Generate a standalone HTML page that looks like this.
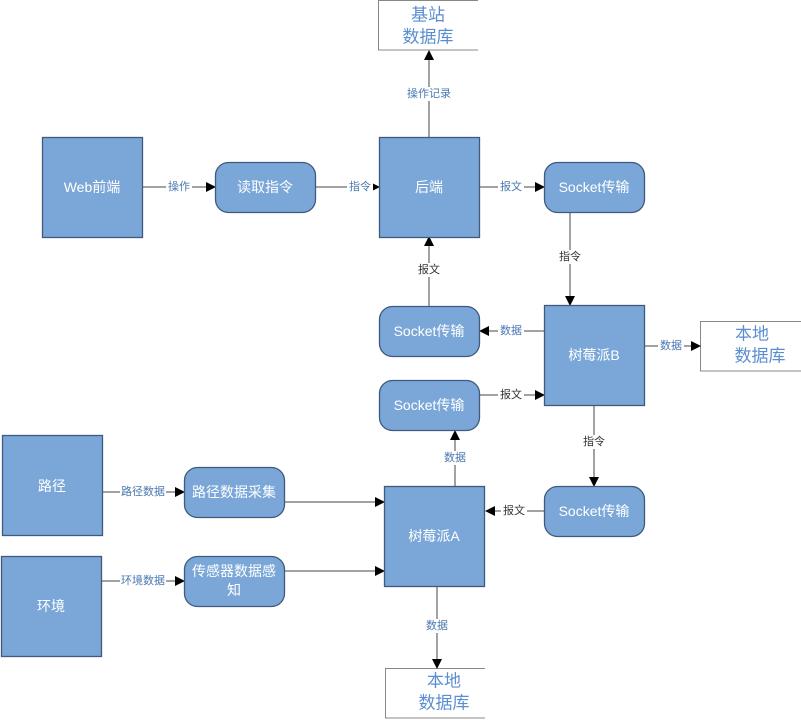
<!DOCTYPE html>
<html><head><meta charset="utf-8"><style>
html,body{margin:0;padding:0;background:#fff;}
svg{display:block;font-family:"Liberation Sans","Noto Sans CJK SC",sans-serif;}
.b{fill:#7aa7d8;stroke:#3f5a7e;stroke-width:1.3;}
.w{fill:#fff;font-size:14px;text-anchor:middle;dominant-baseline:central;}
.l{fill:#4a78b0;font-size:11px;text-anchor:middle;dominant-baseline:central;}
.d{fill:#333;font-size:11px;text-anchor:middle;dominant-baseline:central;}
.db{fill:#5b8ed0;font-size:17px;text-anchor:middle;dominant-baseline:central;}
.c{stroke:#444;stroke-width:1;fill:none;}
.lb{fill:#fff;}
</style></head><body>
<svg width="801" height="720" viewBox="0 0 801 720">
<defs><marker id="a" markerWidth="10" markerHeight="10" refX="9" refY="5" orient="auto" markerUnits="userSpaceOnUse"><path d="M0,0 L10,5 L0,10 z" fill="#000"/></marker></defs>
<!-- open DB boxes -->
<path d="M478,0.5 H378.5 V50 H478" fill="none" stroke="#888" stroke-width="1"/>
<text class="db" x="428" y="15">基站</text><text class="db" x="428" y="37">数据库</text>
<path d="M801,321.5 H700.5 V371 H801" fill="none" stroke="#888" stroke-width="1"/>
<text class="db" x="752" y="334">本地</text><text class="db" x="760" y="356">数据库</text>
<path d="M485,668.5 H385.5 V718 H485" fill="none" stroke="#888" stroke-width="1"/>
<text class="db" x="444" y="681">本地</text><text class="db" x="444" y="703">数据库</text>

<!-- connectors -->
<line class="c" x1="142" y1="187" x2="215" y2="187" marker-end="url(#a)"/>
<line class="c" x1="315" y1="187" x2="379" y2="187" marker-end="url(#a)"/>
<line class="c" x1="479" y1="187" x2="544" y2="187" marker-end="url(#a)"/>
<line class="c" x1="429" y1="137" x2="429" y2="51" marker-end="url(#a)"/>
<line class="c" x1="570" y1="212" x2="570" y2="305" marker-end="url(#a)"/>
<line class="c" x1="429" y1="306" x2="429" y2="237" marker-end="url(#a)"/>
<line class="c" x1="544" y1="331" x2="480" y2="331" marker-end="url(#a)"/>
<line class="c" x1="644" y1="346" x2="700" y2="346" marker-end="url(#a)"/>
<line class="c" x1="479" y1="395" x2="544" y2="395" marker-end="url(#a)"/>
<line class="c" x1="594" y1="405" x2="594" y2="486" marker-end="url(#a)"/>
<line class="c" x1="544" y1="511" x2="486" y2="511" marker-end="url(#a)"/>
<line class="c" x1="455" y1="486" x2="455" y2="431" marker-end="url(#a)"/>
<line class="c" x1="103" y1="492" x2="184" y2="492" marker-end="url(#a)"/>
<line class="c" x1="284" y1="502" x2="384" y2="502" marker-end="url(#a)"/>
<line class="c" x1="101" y1="581" x2="184" y2="581" marker-end="url(#a)"/>
<line class="c" x1="284" y1="571" x2="384" y2="571" marker-end="url(#a)"/>
<line class="c" x1="437" y1="586" x2="437" y2="668" marker-end="url(#a)"/>

<!-- labels -->
<rect class="lb" x="166" y="180" width="26" height="14"/><text class="l" x="179" y="187">操作</text>
<rect class="lb" x="347" y="180" width="26" height="14"/><text class="l" x="360" y="187">指令</text>
<rect class="lb" x="498" y="180" width="26" height="14"/><text class="l" x="511" y="187">报文</text>
<rect class="lb" x="404" y="87" width="50" height="14"/><text class="l" x="429" y="94">操作记录</text>
<rect class="lb" x="557" y="250" width="26" height="14"/><text class="d" x="570" y="257">指令</text>
<rect class="lb" x="416" y="263" width="26" height="14"/><text class="d" x="429" y="270">报文</text>
<rect class="lb" x="498" y="324" width="26" height="14"/><text class="l" x="511" y="331">数据</text>
<rect class="lb" x="658" y="339" width="26" height="14"/><text class="l" x="671" y="346">数据</text>
<rect class="lb" x="498" y="388" width="26" height="14"/><text class="d" x="511" y="395">报文</text>
<rect class="lb" x="581" y="435" width="26" height="14"/><text class="d" x="594" y="442">指令</text>
<rect class="lb" x="501" y="504" width="26" height="14"/><text class="d" x="514" y="511">报文</text>
<rect class="lb" x="442" y="451" width="26" height="14"/><text class="l" x="455" y="458">数据</text>
<rect class="lb" x="120" y="485" width="46" height="14"/><text class="l" x="143" y="492">路径数据</text>
<rect class="lb" x="120" y="574" width="46" height="14"/><text class="l" x="143" y="581">环境数据</text>
<rect class="lb" x="424" y="619" width="26" height="14"/><text class="l" x="437" y="626">数据</text>

<!-- boxes -->
<rect class="b" x="42.5" y="137.5" width="100" height="100"/><text class="w" x="92" y="187">Web前端</text>
<rect class="b" x="215.5" y="162.5" width="100" height="50" rx="13"/><text class="w" x="265" y="187">读取指令</text>
<rect class="b" x="379.5" y="137.5" width="100" height="100"/><text class="w" x="429" y="187">后端</text>
<rect class="b" x="544.5" y="162.5" width="100" height="50" rx="13"/><text class="w" x="594" y="187">Socket传输</text>
<rect class="b" x="379.5" y="306.5" width="100" height="50" rx="13"/><text class="w" x="429" y="331">Socket传输</text>
<rect class="b" x="544.5" y="305.5" width="100" height="100"/><text class="w" x="594" y="355">树莓派B</text>
<rect class="b" x="379.5" y="380.5" width="100" height="50" rx="13"/><text class="w" x="429" y="405">Socket传输</text>
<rect class="b" x="544.5" y="486.5" width="100" height="50" rx="13"/><text class="w" x="594" y="511">Socket传输</text>
<rect class="b" x="384.5" y="486.5" width="100" height="100"/><text class="w" x="434" y="536">树莓派A</text>
<rect class="b" x="2.5" y="435.5" width="100" height="100"/><text class="w" x="52" y="486">路径</text>
<rect class="b" x="1.5" y="556.5" width="100" height="100"/><text class="w" x="51" y="606">环境</text>
<rect class="b" x="184.5" y="467.5" width="100" height="50" rx="13"/><text class="w" x="234" y="492">路径数据采集</text>
<rect class="b" x="184.5" y="556.5" width="100" height="50" rx="13"/><text class="w" x="234" y="571">传感器数据感</text><text class="w" x="234" y="590">知</text>
</svg>
</body></html>
